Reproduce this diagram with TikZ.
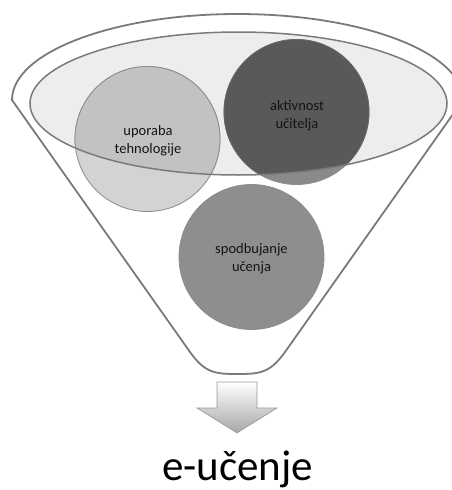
\documentclass[tikz,border=0pt]{standalone}
\usepackage{fontspec}
\setmainfont{Carlito}
\usetikzlibrary{shapes.geometric}
\definecolor{funnelline}{HTML}{7A7A7A}
\definecolor{ellfill}{HTML}{EDEDED}
\definecolor{upOut}{HTML}{D3D3D3}
\definecolor{upIn}{HTML}{C2C2C2}
\definecolor{akOut}{HTML}{8A8A8A}
\definecolor{akIn}{HTML}{595959}
\definecolor{spFill}{HTML}{8E8E8E}
\definecolor{txt}{HTML}{141414}
\tikzset{
  ball/.style={circle, minimum size=145pt, inner sep=0pt, draw=black!45, line width=0.8pt},
  balltext/.style={text=txt, align=center, font=\fontsize{14.5}{18}\selectfont},
  funnel/.style={draw=funnelline, line width=1.8pt},
  rim/.style={draw=funnelline, line width=1.5pt},
}
\begin{document}
\begin{tikzpicture}[x=1pt,y=1pt]
\useasboundingbox (0,0) rectangle (452,-490);
\begin{scope}
\clip (0,0) rectangle (452,-490);
% funnel body
\draw[funnel] (12,-100) arc[start angle=180, end angle=0, x radius=225.5, y radius=86]
  -- (285,-352) .. controls (270,-373) and (260,-374) .. (237.5,-374)
  .. controls (215,-374) and (205,-373) .. (190,-352) -- cycle;
% inner rim fill
\fill[ellfill] (238.5,-103.5) ellipse [x radius=208.5, y radius=71.5];
% circles (outside colours)
\node[ball, fill=upOut] (up) at (147.5,-139) {};
\node[ball, fill=akOut] (ak) at (296.5,-112) {};
\node[ball, fill=spFill] (sp) at (251.5,-257) {};
% circles inside the rim
\begin{scope}
\clip (238.5,-103.5) ellipse [x radius=208.5, y radius=71.5];
\fill[upIn] (up.center) circle [radius=72.5];
\fill[akIn] (ak.center) circle [radius=72.5];
\draw[black!45, line width=0.8pt] (up.center) circle [radius=72.5];
\draw[black!60, line width=0.8pt] (ak.center) circle [radius=72.5];
\end{scope}
% rim outline
\draw[rim] (238.5,-103.5) ellipse [x radius=208.5, y radius=71.5];
\end{scope}
% texts
\node[balltext] (uptext) at (148,-141) {uporaba\\tehnologije};
\node[balltext] (aktext) at (297,-116) {aktivnost\\učitelja};
\node[balltext] (sptext) at (251.5,-259) {spodbujanje\\učenja};
% arrow
\shade[top color=white, bottom color=black!35, draw=black!40, line width=0.6pt]
  (217,-382) -- (257,-382) -- (257,-408) -- (277,-408) -- (237,-433)
  -- (197,-408) -- (217,-408) -- cycle;
\coordinate (arrowtip) at (237,-433);
% result
\node[anchor=base, text=black, font=\fontsize{43}{50}\selectfont] (res) at (237.5,-480) {e-učenje};
\end{tikzpicture}
\end{document}
